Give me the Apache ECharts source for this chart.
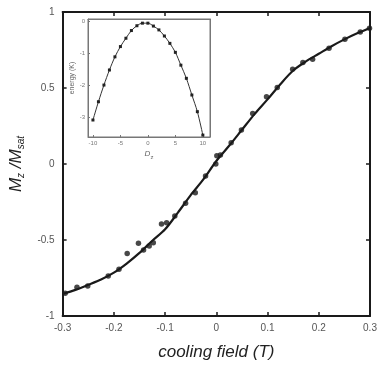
<!DOCTYPE html>
<html>
<head>
<meta charset="utf-8">
<script src="https://cdn.jsdelivr.net/npm/echarts@6/dist/echarts.min.js"></script>
<style>
    html, body { margin: 0; padding: 0; background: #fff; }
    #chartView { width: 381px; height: 366px; }
</style>
</head>
<body>
<div id="chartView"></div>
<script>
    // main panel: measured points
    var fieldPoints = [-0.295, -0.272, -0.251, -0.211, -0.19, -0.174, -0.152, -0.142, -0.131, -0.123,
        -0.107, -0.097, -0.081, -0.06, -0.041, -0.021, -0.001, 0.001, 0.008, 0.029,
        0.049, 0.071, 0.098, 0.119, 0.149, 0.169, 0.188, 0.22, 0.251, 0.281, 0.299];
    var magPoints = [-0.851, -0.811, -0.803, -0.737, -0.693, -0.588, -0.522, -0.566, -0.54, -0.518,
        -0.395, -0.386, -0.342, -0.259, -0.189, -0.079, 0, 0.055, 0.059, 0.14,
        0.224, 0.333, 0.443, 0.504, 0.623, 0.667, 0.689, 0.761, 0.82, 0.868, 0.893];

    // main panel: fitted curve
    var fitField = [-0.3, -0.275, -0.25, -0.225, -0.2, -0.175, -0.15, -0.125, -0.1, -0.075, -0.05, -0.025,
        0, 0.025, 0.05, 0.075, 0.1, 0.125, 0.15, 0.175, 0.2, 0.225, 0.25, 0.275, 0.3];
    var fitMag = [-0.855, -0.828, -0.795, -0.76, -0.715, -0.655, -0.585, -0.505, -0.43, -0.32, -0.205, -0.1,
        0.02, 0.12, 0.225, 0.33, 0.425, 0.525, 0.615, 0.675, 0.725, 0.775, 0.82, 0.86, 0.895];

    // inset: energy vs Dz
    var insetX = [-10, -9, -8, -7, -6, -5, -4, -3, -2, -1, 0, 1, 2, 3, 4, 5, 6, 7, 8, 9, 10];
    var insetEnergy = [-3.09, -2.52, -2.0, -1.53, -1.12, -0.8, -0.54, -0.3, -0.15, -0.07, -0.07,
        -0.16, -0.28, -0.47, -0.7, -0.98, -1.38, -1.79, -2.31, -2.83, -3.56];

    var xTicks = [-0.3, -0.2, -0.1, 0, 0.1, 0.2, 0.3];
    var yTicks = [-1, -0.5, 0, 0.5, 1];
    var insetXTicks = [-10, -5, 0, 5, 10];
    var insetYTicks = [-3, -2, -1, 0];

    var ink = '#1a1a1a';
    var labelColor = '#555';

    function pairs(xs, ys) {
        return xs.map(function (x, i) { return [x, ys[i]]; });
    }

    function mainAxis(extra) {
        var axis = {
            type: 'value',
            gridIndex: 0,
            axisLine: { show: true, onZero: false, lineStyle: { color: ink, width: 2 } },
            axisTick: { show: true, inside: true, length: 4, lineStyle: { color: ink, width: 1.5 } },
            splitLine: { show: false },
            axisLabel: { show: false }
        };
        return Object.assign(axis, extra);
    }

    function insetAxis(extra) {
        var axis = {
            type: 'value',
            gridIndex: 1,
            axisLine: { show: true, onZero: false, lineStyle: { color: '#777', width: 1 } },
            axisTick: { show: true, inside: true, length: 2, lineStyle: { color: '#777', width: 1 } },
            splitLine: { show: false },
            axisLabel: { show: false }
        };
        return Object.assign(axis, extra);
    }

    var chartView = echarts.init(document.getElementById('chartView'));
    var option = {
        animation: false,
        backgroundColor: '#fff',
        grid: [
            { left: 58, right: 11, top: 12, bottom: 50 },
            { left: 88, top: 19, width: 122, height: 118, backgroundColor: '#fff', show: true, borderColor: '#777', borderWidth: 1 }
        ],
        xAxis: [
            mainAxis({
                position: 'bottom', min: -0.3, max: 0.3,
                axisTick: { show: true, inside: true, length: 4, customValues: xTicks, lineStyle: { color: ink, width: 1.5 } },
                axisLabel: {
                    show: true, customValues: xTicks, color: labelColor, fontSize: 10, margin: 7,
                    fontFamily: 'Liberation Sans',
                    formatter: function (v) { return String(Math.round(v * 10) / 10); }
                },
                name: 'cooling field (T)', nameLocation: 'middle', nameGap: 28,
                nameTextStyle: { color: '#222', fontSize: 17, fontStyle: 'italic', fontFamily: 'Liberation Sans' }
            }),
            mainAxis({
                position: 'top', min: -0.3, max: 0.3,
                axisTick: { show: true, inside: true, length: 4, customValues: xTicks, lineStyle: { color: ink, width: 1.5 } }
            }),
            insetAxis({
                position: 'bottom', min: -10.9, max: 11.3,
                axisTick: { show: true, inside: true, length: 2, customValues: insetXTicks, lineStyle: { color: '#777' } },
                axisLabel: { show: true, customValues: insetXTicks, color: '#777', fontSize: 6, margin: 3 },
                name: '{b|D}{s|z}', nameLocation: 'middle', nameGap: 11,
                nameTextStyle: {
                    rich: {
                        b: { fontSize: 8, color: '#666', fontStyle: 'italic' },
                        s: { fontSize: 6, color: '#666', verticalAlign: 'bottom', padding: [6, 0, 0, 0] }
                    }
                }
            }),
            insetAxis({
                position: 'top', min: -10.9, max: 11.3,
                axisTick: { show: false }
            })
        ],
        yAxis: [
            mainAxis({
                position: 'left', min: -1, max: 1,
                axisTick: { show: true, inside: true, length: 4, customValues: yTicks, lineStyle: { color: ink, width: 1.5 } },
                axisLabel: {
                    show: true, customValues: yTicks, color: labelColor, fontSize: 10, margin: 8,
                    fontFamily: 'Liberation Sans'
                },
                name: '{m|M}{s|z}{m| /M}{s|sat}', nameLocation: 'middle', nameGap: 32,
                nameTextStyle: {
                    rich: {
                        m: { fontSize: 17, color: '#222', fontStyle: 'italic', fontFamily: 'Liberation Sans' },
                        s: { fontSize: 10, color: '#222', fontStyle: 'italic', fontFamily: 'Liberation Sans', verticalAlign: 'bottom', padding: [10, 0, 0, 0] }
                    }
                }
            }),
            mainAxis({
                position: 'right', min: -1, max: 1,
                axisTick: { show: true, inside: true, length: 4, customValues: yTicks, lineStyle: { color: ink, width: 1.5 } }
            }),
            insetAxis({
                position: 'left', min: -3.62, max: 0.06,
                axisTick: { show: true, inside: true, length: 2, customValues: insetYTicks, lineStyle: { color: '#777' } },
                axisLabel: { show: true, customValues: insetYTicks, color: '#777', fontSize: 6, margin: 3 },
                name: 'energy (K)', nameLocation: 'middle', nameGap: 11,
                nameTextStyle: { color: '#666', fontSize: 7 }
            }),
            insetAxis({
                position: 'right', min: -3.62, max: 0.06,
                axisTick: { show: false }
            })
        ],
        series: [
            {
                type: 'line', xAxisIndex: 0, yAxisIndex: 0,
                data: pairs(fitField, fitMag),
                smooth: 0.3, symbol: 'none',
                lineStyle: { color: ink, width: 2.2 },
                z: 3
            },
            {
                type: 'scatter', xAxisIndex: 0, yAxisIndex: 0,
                data: pairs(fieldPoints, magPoints),
                symbol: 'circle', symbolSize: 5.5,
                itemStyle: { color: ink },
                z: 4
            },
            {
                type: 'line', xAxisIndex: 2, yAxisIndex: 2,
                data: pairs(insetX, insetEnergy),
                smooth: 0.3, symbol: 'rect', symbolSize: 3, showSymbol: true,
                lineStyle: { color: '#333', width: 1 },
                itemStyle: { color: '#222' },
                z: 6
            }
        ]
    };
    chartView.setOption(option);
</script>
</body>
</html>
